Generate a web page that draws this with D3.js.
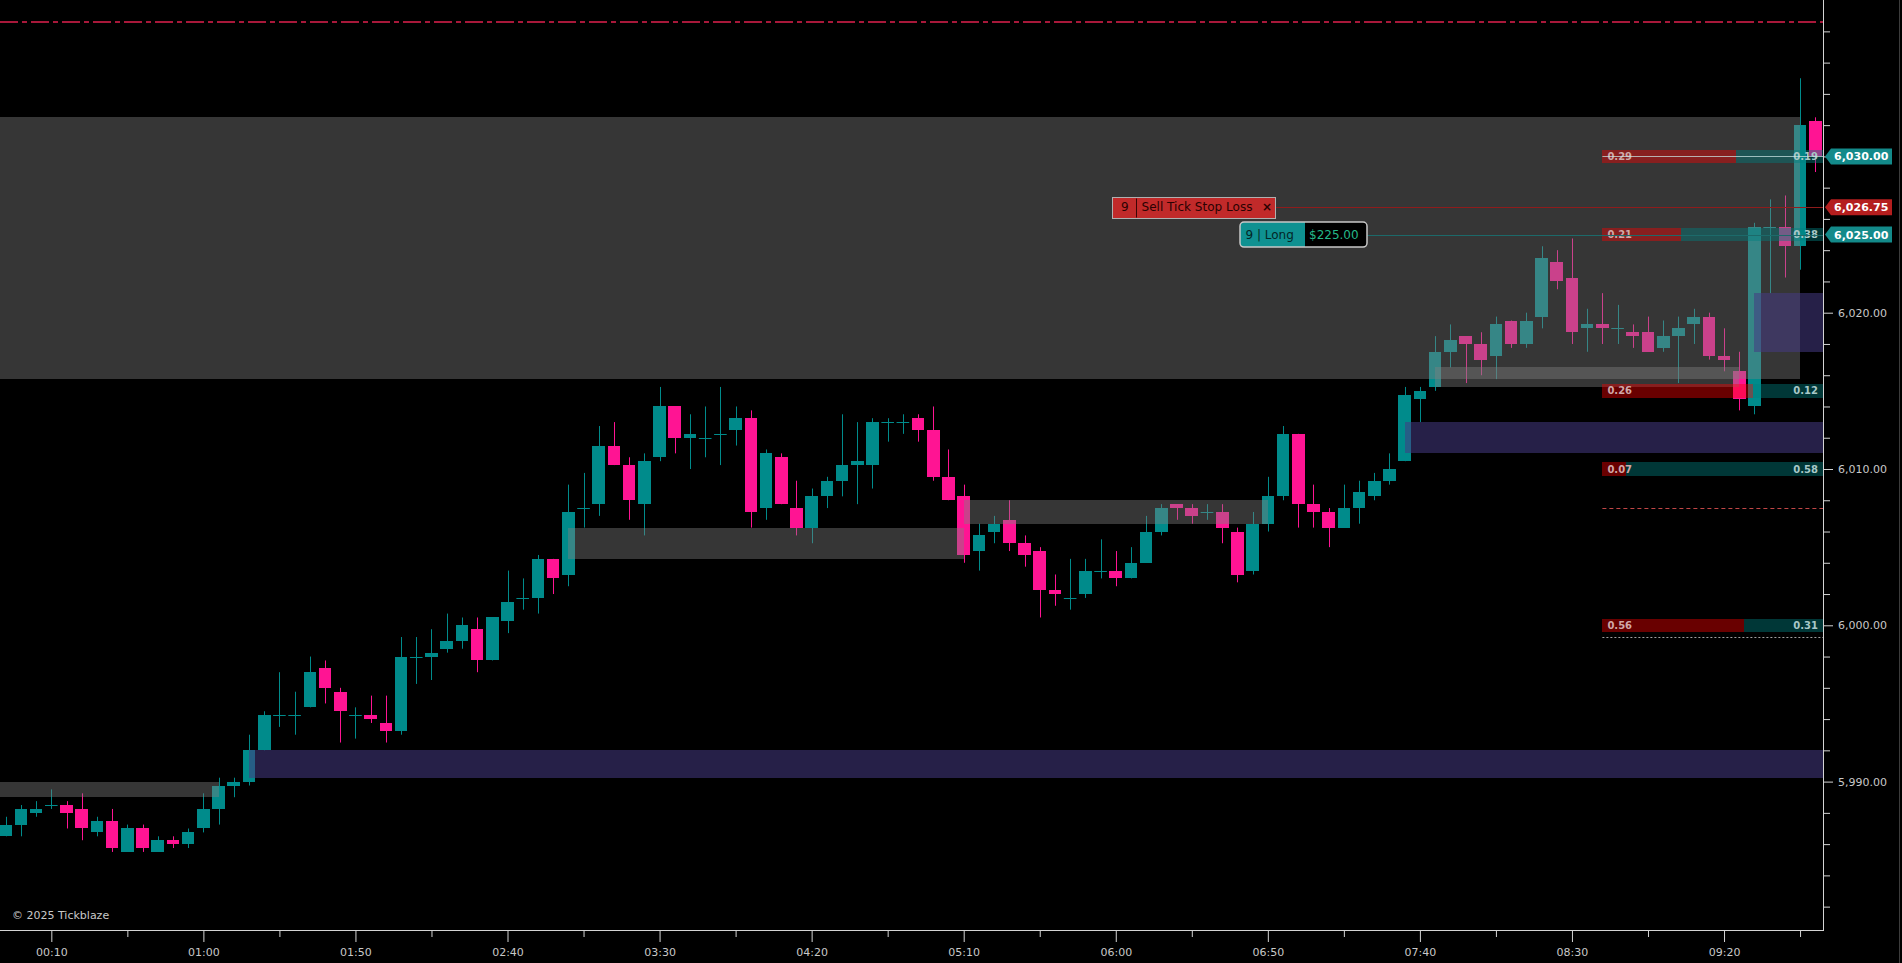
<!DOCTYPE html>
<html><head><meta charset="utf-8">
<script src="https://cdn.jsdelivr.net/npm/d3@7"></script>
<style>html,body{margin:0;padding:0;background:#000;overflow:hidden}svg{display:block}</style>
</head><body>
<svg id="c" width="1902" height="963"></svg>
<script>
// ---------- DATA ----------
const times = ["23:55","00:00","00:05","00:10","00:15","00:20","00:25","00:30","00:35","00:40","00:45","00:50","00:55",
"01:00","01:05","01:10","01:15","01:20","01:25","01:30","01:35","01:40","01:45","01:50","01:55",
"02:00","02:05","02:10","02:15","02:20","02:25","02:30","02:35","02:40","02:45","02:50","02:55",
"03:00","03:05","03:10","03:15","03:20","03:25","03:30","03:35","03:40","03:45","03:50","03:55",
"04:00","04:05","04:10","04:15","04:20","04:25","04:30","04:35","04:40","04:45","04:50","04:55",
"05:00","05:05","05:10","05:15","05:20","05:25","05:30","05:35","05:40","05:45","05:50","05:55",
"06:00","06:05","06:10","06:15","06:20","06:25","06:30","06:35","06:40","06:45","06:50","06:55",
"07:00","07:05","07:10","07:15","07:20","07:25","07:30","07:35","07:40","07:45","07:50","07:55",
"08:00","08:05","08:10","08:15","08:20","08:25","08:30","08:35","08:40","08:45","08:50","08:55",
"09:00","09:05","09:10","09:15","09:20","09:25","09:30","09:35","09:40","09:45","09:50"];
const open = [5986.5,5987.25,5988,5988.5,5988.5,5988.25,5986.75,5987.5,5985.5,5987,5985.5,5986.25,5986,
5987,5988.25,5989.75,5990,5992,5994.25,5994.25,5994.75,5997.25,5995.75,5994.25,5994.25,
5993.75,5993.25,5998,5998,5998.5,5999,5999.75,5997.75,6000.25,6001.75,6001.75,6004.25,
6003.25,6007.5,6007.75,6011.5,6010.25,6007.75,6010.75,6014,6012,6012,6012.25,6012.5,
6013.25,6007.5,6010.75,6007.5,6006.25,6008.25,6009.25,6010.25,6010.25,6013,6013,6013.25,
6012.5,6009.5,6008.25,6004.75,6006,6006.75,6005.25,6004.75,6002.25,6001.75,6002,6003.5,
6003.5,6003,6004,6006,6007.75,6007.5,6007.25,6007.25,6006,6003.5,6006.5,6008.25,
6012.25,6007.75,6007.25,6006.25,6007.5,6008.25,6009.25,6010.5,6014.5,6015.25,6017.5,6018.5,
6018,6017.25,6019.5,6018,6019.75,6023.25,6022.25,6019,6019.25,6019,6018.75,6018.75,
6017.75,6018.5,6019.25,6019.75,6017.25,6016.25,6014,6025.5,6025.5,6024.25,6032.25];
const high = [5987.75,5988.5,5988.75,5989.5,5988.75,5989.25,5987.75,5988.25,5987.25,5987.25,5986.5,5986.5,5987,
5989.25,5990.25,5990.25,5993,5994.5,5997,5995.75,5998,5997.75,5996,5994.75,5995.5,
5995.5,5999.25,5999.25,5999.75,6000.75,6000.5,6000.5,6000.5,6003.5,6003,6004.5,6004.25,
6009,6009.75,6012.75,6013,6010.75,6011,6015.25,6014,6013.5,6014,6015.25,6014,
6013.75,6011.25,6011,6009.25,6008.75,6009.5,6013.5,6013,6013.25,6013.25,6013.5,6013.5,
6014,6011.25,6009,6006.5,6007,6008,6005.75,6005,6003.25,6004.25,6004.25,6005.5,
6004.75,6005,6007,6007.75,6007.75,6007.75,6007.75,6007.75,6006.25,6007.25,6009.5,6012.75,
6012.25,6009,6007.5,6009,6009.25,6009.75,6011,6015.25,6015.25,6018.5,6019.25,6018.5,
6018.75,6019.75,6019.5,6020,6024.25,6024,6024.75,6020.25,6021.25,6020.5,6019.25,6019.75,
6019.5,6019.75,6020.25,6020,6019,6017.5,6025.75,6027.25,6027.5,6035,6032.5];
const low = [5986.5,5986.5,5987.75,5988.25,5987,5986.25,5986.5,5985.5,5985.5,5985.5,5985.5,5985.75,5985.75,
5986.75,5987.25,5989,5989.75,5992,5993.5,5993,5994.75,5995,5992.5,5992.75,5993.75,
5992.5,5993,5996.25,5996.5,5998.25,5998.5,5997,5997.75,5999.5,6001,6000.75,6002,
6002.5,6006.25,6007,6010.25,6006.75,6005.75,6010.5,6011,6010,6010.75,6010.25,6011.5,
6006.25,6006.75,6007.75,6005.75,6005.25,6007.5,6008.25,6007.75,6008.75,6011.75,6012.25,6011.75,
6009.25,6008,6004,6003.5,6005.25,6004.75,6003.75,6000.5,6001.25,6001,6001.75,6003,
6002.5,6003,6004,6005.75,6006.75,6006.5,6006.75,6005.25,6002.75,6003.25,6006,6008,
6006.25,6006.25,6005,6006.25,6006.5,6008,6009,6010.5,6013,6015,6016.5,6015.5,
6016,6015.75,6017.75,6017.75,6019,6021.5,6018,6017.5,6018,6018,6017.75,6017.5,
6017.5,6015.5,6018,6017,6016.25,6013.75,6013.5,6021.25,6022.25,6022.75,6029];
const close = [5987.25,5988.25,5988.25,5988.5,5988,5987,5987.5,5985.75,5987,5985.75,5986.25,5986,5986.75,
5988.25,5989.75,5990,5992,5994.25,5994.25,5994.25,5997,5996,5994.5,5994.25,5994,
5993.25,5998,5998,5998.25,5999,6000,5997.75,6000.5,6001.5,6001.75,6004.25,6003,
6007.25,6007.5,6011.5,6010.25,6008,6010.5,6014,6012,6012.25,6012,6012.25,6013.25,
6007.25,6011,6007.75,6006.25,6008.25,6009.25,6010.25,6010.5,6013,6013,6013,6012.5,
6009.5,6008,6004.5,6005.75,6006.5,6005.25,6004.5,6002.25,6002,6001.75,6003.5,6003.5,
6003,6004,6006,6007.5,6007.5,6007,6007.25,6006.25,6003.25,6006.5,6008.25,6012.25,
6007.75,6007.25,6006.25,6007.5,6008.5,6009.25,6010,6014.75,6015,6017.5,6018.25,6018,
6017,6019.25,6018,6019.5,6023.5,6022,6018.75,6019.25,6019,6019,6018.5,6017.5,
6018.5,6019,6019.75,6017.25,6017,6014.5,6025.5,6025.5,6024.25,6032,6030];

const xTickLabels = ["00:10","01:00","01:50","02:40","03:30","04:20","05:10","06:00","06:50","07:40","08:30","09:20"];
const xMinorLabels = ["00:35","01:25","02:15","03:05","03:55","04:45","05:35","06:25","07:15","08:05","08:55","09:45"];
const yTickLabels = ["5,990.00","6,000.00","6,010.00","6,020.00","6,030.00"];

// zones (gray = supply/demand boxes, purple = gaps)
const zoneStart = ["23:45","07:45","03:00","05:10","23:45","01:15","07:35","09:30"];
const zoneEnd   = ["09:45","09:25","05:10","06:50","01:05","10:00","10:00","10:00"];
const zoneLow   = [6015.75,6015.25,6004.25,6006.5,5989.0,5990.25,6011.0,6017.5];
const zoneHigh  = [6032.5,6016.5,6006.25,6008.0,5990.0,5992.0,6013.0,6021.25];
const zoneKind  = ["gray","gray","gray","gray","gray","purple","purple","purple"];

// order-flow bars
const barPrice = [6030, 6025, 6015, 6010, 6000];
const barSell  = [0.29, 0.21, 0.26, 0.07, 0.56];
const barBuy   = [0.19, 0.38, 0.12, 0.58, 0.31];
const barStart = "08:40";

// levels
const lastPrice = 6030.00, stopPrice = 6026.75, entryPrice = 6025.00;
const dashedRed = 6007.5, dottedGray = 5999.25, topLevel = 6038.6;

// ---------- SETUP ----------
const W = 1902, H = 963, plotR = 1823, plotB = 930;
const toMin = s => { const [h,m] = s.split(":").map(Number); let v = h*60+m; if (h >= 12) v -= 1440; return v; };
const fmtT = v => { let m = ((v % 1440) + 1440) % 1440; return String(Math.floor(m/60)).padStart(2,"0")+":"+String(m%60).padStart(2,"0"); };

const x = d3.scaleLinear().domain([0, 560]).range([20.9, 20.9 + 560*3.0413]);
const y = d3.scaleLinear().domain([5990, 6030]).range([781.6, 156.4]);
const step = x(5) - x(0);
const bw = step * 0.83;

const svg = d3.select("#c");
svg.append("rect").attr("width", W).attr("height", H).attr("fill", "#000");
svg.append("defs").append("clipPath").attr("id","plot").append("rect")
  .attr("x",0).attr("y",0).attr("width",plotR).attr("height",plotB);
const g = svg.append("g").attr("clip-path","url(#plot)");

const candles = times.map((t,i) => ({t: toMin(t), o: open[i], h: high[i], l: low[i], c: close[i]}));
const UP = "#008b8b", DN = "#ff1493";
const col = d => d.c < d.o ? DN : UP;

// top dash-dot level
g.append("line").attr("x1",0).attr("x2",plotR).attr("y1",y(topLevel)).attr("y2",y(topLevel))
  .attr("stroke","#a8183a").attr("stroke-width",2).attr("stroke-dasharray","18,4,5,4");

// candles
const cg = g.append("g");
cg.selectAll("line.w").data(candles).join("line")
  .attr("x1", d => Math.round(x(d.t))+0.5).attr("x2", d => Math.round(x(d.t))+0.5)
  .attr("y1", d => y(d.h)).attr("y2", d => y(d.l))
  .attr("stroke", col).attr("stroke-width", 1);
cg.selectAll("rect.b").data(candles.filter(d => d.o !== d.c)).join("rect")
  .attr("x", d => x(d.t) - bw/2).attr("width", bw)
  .attr("y", d => y(Math.max(d.o,d.c))).attr("height", d => Math.abs(y(d.o)-y(d.c)))
  .attr("fill", col).attr("shape-rendering","crispEdges");
cg.selectAll("line.d").data(candles.filter(d => d.o === d.c)).join("line")
  .attr("x1", d => x(d.t) - bw/2).attr("x2", d => x(d.t) + bw/2)
  .attr("y1", d => Math.round(y(d.o))+0.5).attr("y2", d => Math.round(y(d.o))+0.5)
  .attr("stroke", UP).attr("stroke-width", 1);

// zones drawn over candles (semi-transparent)
const zones = zoneStart.map((s,i) => ({s: toMin(s), e: toMin(zoneEnd[i]), lo: zoneLow[i], hi: zoneHigh[i], k: zoneKind[i]}));
g.selectAll("rect.z").data(zones).join("rect")
  .attr("x", d => Math.max(0, x(d.s))).attr("width", d => Math.min(plotR, x(d.e)) - Math.max(0, x(d.s)))
  .attr("y", d => y(d.hi)).attr("height", d => y(d.lo) - y(d.hi))
  .attr("fill", d => d.k === "gray" ? "rgba(128,128,128,0.42)" : "rgba(69,58,131,0.55)")
  .attr("shape-rendering","crispEdges");

// order-flow bars
const bx0 = x(toMin(barStart)), bx1 = plotR, bh = 13.4;
const bars = barPrice.map((p,i) => ({p, s: barSell[i], b: barBuy[i]}));
const bg = svg.append("g");
bars.forEach(d => {
  const yc = y(d.p), split = bx0 + (bx1-bx0) * d.s/(d.s+d.b);
  bg.append("rect").attr("x",bx0).attr("y",yc-bh/2).attr("width",split-bx0).attr("height",bh)
    .attr("fill","rgba(255,0,0,0.41)").attr("shape-rendering","crispEdges");
  bg.append("rect").attr("x",split).attr("y",yc-bh/2).attr("width",bx1-split).attr("height",bh)
    .attr("fill","rgba(0,128,128,0.43)").attr("shape-rendering","crispEdges");
  bg.append("text").attr("x",bx0+5).attr("y",yc+3.6).text(d.s.toFixed(2))
    .attr("font-family","DejaVu Sans").attr("font-weight","bold").attr("font-size",10).attr("fill","#d0a8a8");
  bg.append("text").attr("x",bx1-5).attr("y",yc+3.6).attr("text-anchor","end").text(d.b.toFixed(2))
    .attr("font-family","DejaVu Sans").attr("font-weight","bold").attr("font-size",10).attr("fill","#a8c8c8");
});

// dashed levels
svg.append("line").attr("x1",bx0).attr("x2",plotR).attr("y1",Math.round(y(dashedRed))+0.5).attr("y2",Math.round(y(dashedRed))+0.5)
  .attr("stroke","#c04646").attr("stroke-dasharray","4,3");
svg.append("line").attr("x1",bx0).attr("x2",plotR).attr("y1",Math.round(y(dottedGray))+0.5).attr("y2",Math.round(y(dottedGray))+0.5)
  .attr("stroke","#a0a0a0").attr("stroke-dasharray","2,2");

// price lines
svg.append("line").attr("x1",bx0).attr("x2",plotR).attr("y1",Math.round(y(lastPrice))+0.5).attr("y2",Math.round(y(lastPrice))+0.5)
  .attr("stroke","rgba(200,225,225,0.75)");
const sellX0 = 1112, sellX1 = 1275, longX0 = 1240, longX1 = 1367, longSplit = 1305;
svg.append("line").attr("x1",sellX1).attr("x2",plotR).attr("y1",Math.round(y(stopPrice))+0.5).attr("y2",Math.round(y(stopPrice))+0.5)
  .attr("stroke","#8e1c1c");
svg.append("line").attr("x1",longX1).attr("x2",plotR).attr("y1",Math.round(y(entryPrice))+0.5).attr("y2",Math.round(y(entryPrice))+0.5)
  .attr("stroke","#1c6a6a");

// Sell Tick Stop Loss label
{
  const yc = y(stopPrice), h = 21, t = Math.round(yc - h/2)+0.5;
  svg.append("rect").attr("x",sellX0+0.5).attr("y",t).attr("width",sellX1-sellX0).attr("height",h)
    .attr("fill","#c12a2a").attr("stroke","#b0b0b0");
  svg.append("line").attr("x1",1136.5).attr("x2",1136.5).attr("y1",t+1).attr("y2",t+h-1).attr("stroke","#3a0505");
  const tt = (s,xx,extra) => svg.append("text").attr("x",xx).attr("y",yc+4.3).text(s)
    .attr("font-family","DejaVu Sans").attr("font-size",12).attr("fill","#2a0202").call(extra||(()=>{}));
  tt("9", 1121);
  tt("Sell Tick Stop Loss", 1141.5, s => s.attr("textLength",111).attr("lengthAdjust","spacingAndGlyphs"));
  tt("×", 1262, s => s.attr("font-weight","bold"));
}
// Long label
{
  const yc = y(entryPrice), h = 25, t = yc - h/2;
  const cp = svg.select("defs").append("clipPath").attr("id","lg");
  cp.append("rect").attr("x",longX0).attr("y",t).attr("width",longX1-longX0).attr("height",h).attr("rx",4);
  const lg = svg.append("g").attr("clip-path","url(#lg)");
  lg.append("rect").attr("x",longX0).attr("y",t).attr("width",longSplit-longX0).attr("height",h).attr("fill","#0f9191");
  lg.append("rect").attr("x",longSplit).attr("y",t).attr("width",longX1-longSplit).attr("height",h).attr("fill","#000");
  svg.append("rect").attr("x",longX0).attr("y",t).attr("width",longX1-longX0).attr("height",h).attr("rx",4)
    .attr("fill","none").attr("stroke","#c8c8c8").attr("stroke-width",1.5);
  svg.append("text").attr("x",1245.5).attr("y",yc+4.4).text("9 | Long")
    .attr("font-family","DejaVu Sans").attr("font-size",12).attr("fill","#032626");
  svg.append("text").attr("x",1309).attr("y",yc+4.4).text("$225.00")
    .attr("font-family","DejaVu Sans").attr("font-size",12).attr("fill","#24b88a");
}

// ---------- AXES ----------
const axisCol = "#d4d4d4", txtCol = "#c8c8c8";
const badgePrices = [lastPrice, stopPrice, entryPrice];
const yMinor = d3.range(5982, 6039, 2).filter(v => v % 10 !== 0);
const yMajor = yTickLabels.map(s => +s.replace(/,/g,""));
const yAxMinor = svg.append("g").attr("transform",`translate(${plotR},0)`)
  .call(d3.axisRight(y).tickValues(yMinor).tickSize(7).tickFormat(""));
// labels hidden where a price badge sits on top of them
const yAxMajor = svg.append("g").attr("transform",`translate(${plotR},0)`)
  .call(d3.axisRight(y).tickValues(yMajor).tickSize(10).tickPadding(5)
    .tickFormat(v => badgePrices.some(p => Math.abs(y(p)-y(v)) < 14) ? "" : d3.format(",.2f")(v)));
const xMajor = xTickLabels.map(toMin), xMinor = xMinorLabels.map(toMin);
const xAxMinor = svg.append("g").attr("transform",`translate(0,${plotB})`)
  .call(d3.axisBottom(x).tickValues(xMinor).tickSize(7).tickFormat(""));
const xAxMajor = svg.append("g").attr("transform",`translate(0,${plotB})`)
  .call(d3.axisBottom(x).tickValues(xMajor).tickSize(12).tickPadding(6).tickFormat(fmtT));
[yAxMinor,yAxMajor,xAxMinor,xAxMajor].forEach(a => {
  a.select(".domain").remove();
  a.selectAll(".tick line").attr("stroke",axisCol);
  a.selectAll("text").attr("fill",txtCol).attr("font-family","DejaVu Sans").attr("font-size",11);
});
svg.append("line").attr("x1",plotR+0.5).attr("x2",plotR+0.5).attr("y1",0).attr("y2",plotB).attr("stroke",axisCol);
svg.append("line").attr("x1",0).attr("x2",plotR+1).attr("y1",plotB+0.5).attr("y2",plotB+0.5).attr("stroke",axisCol);
svg.append("line").attr("x1",1899.5).attr("x2",1899.5).attr("y1",0).attr("y2",H).attr("stroke","#3c3c3c");

// price badges
const badges = [{p:lastPrice, c:"#138a8a"},{p:stopPrice, c:"#b41e1e"},{p:entryPrice, c:"#138a8a"}];
badges.forEach(b => {
  const yc = y(b.p), hh = 8;
  svg.append("path").attr("d",`M${plotR+2},${yc} L${plotR+8},${yc-hh} L1892,${yc-hh} L1892,${yc+hh} L${plotR+8},${yc+hh} Z`)
    .attr("fill",b.c);
  svg.append("text").attr("x",1834).attr("y",yc+4).text(d3.format(",.2f")(b.p))
    .attr("font-family","DejaVu Sans").attr("font-weight","bold").attr("font-size",11).attr("fill","#ffffff");
});

// copyright
svg.append("text").attr("x",12).attr("y",919).text("© 2025 Tickblaze")
  .attr("font-family","DejaVu Sans").attr("font-size",11).attr("fill",txtCol);
</script>
</body></html>
